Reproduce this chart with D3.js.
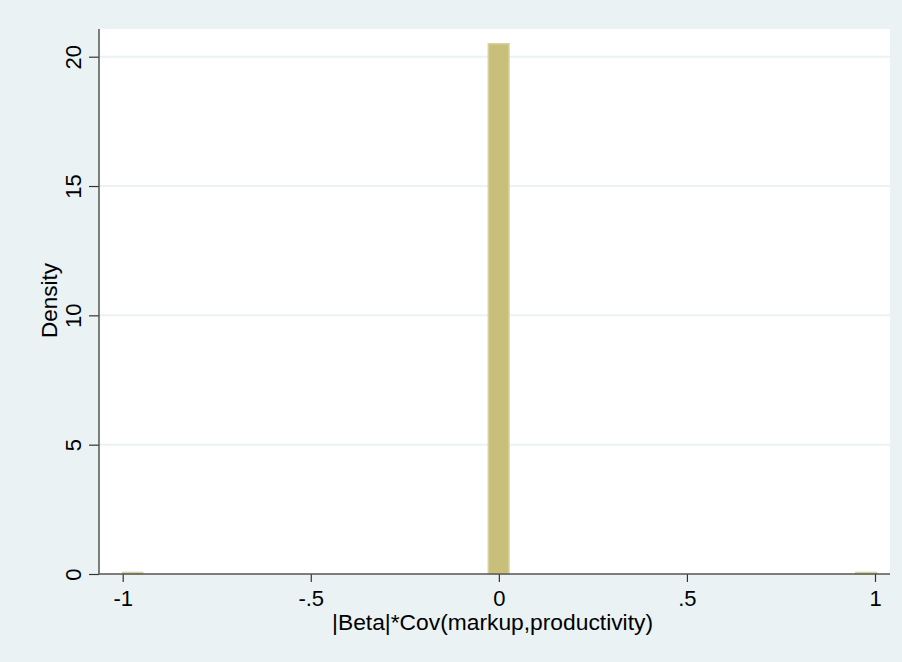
<!DOCTYPE html>
<html>
<head>
<meta charset="utf-8">
<script src="https://cdn.jsdelivr.net/npm/d3@7"></script>
<style>
  body { margin: 0; background: #eaf2f3; }
  svg { display: block; font-family: "Liberation Sans", Arial, sans-serif; }
</style>
</head>
<body>
<svg id="chart"></svg>
<script>
// histogram bins (data units) and their densities
var binStart = [-1.0, -0.028, 0.949];
var binEnd = [-0.947, 0.027, 1.004];
var density = [0.06, 20.5, 0.06];

var xTicks = [-1, -0.5, 0, 0.5, 1];
var xTickLabels = ["-1", "-.5", "0", ".5", "1"];
var yTicks = [0, 5, 10, 15, 20];
var yGrid = [5, 10, 15, 20];

var width = 902, height = 662;
var plot = {left: 99, right: 890, top: 29, bottom: 574};

var svg = d3.select("#chart").attr("width", width).attr("height", height);

svg.append("rect")
    .attr("width", width).attr("height", height)
    .attr("fill", "#eaf2f3");

svg.append("rect")
    .attr("x", plot.left).attr("y", plot.top)
    .attr("width", plot.right - plot.left)
    .attr("height", plot.bottom - plot.top)
    .attr("fill", "#ffffff");

var x = d3.scaleLinear().domain([-1, 1]).range([122.7, 875]);
var y = d3.scaleLinear().domain([0, 20]).range([plot.bottom, 56.7]);

// gridlines
svg.append("g").selectAll("line")
    .data(yGrid)
    .enter().append("line")
    .attr("x1", plot.left).attr("x2", plot.right)
    .attr("y1", function(d) { return y(d); })
    .attr("y2", function(d) { return y(d); })
    .attr("stroke", "#eaf2f3")
    .attr("stroke-width", 2);

// bars
var bins = binStart.map(function(s, i) { return {x0: s, x1: binEnd[i], d: density[i]}; });
svg.append("g").selectAll("rect")
    .data(bins)
    .enter().append("rect")
    .attr("x", function(b) { return x(b.x0); })
    .attr("width", function(b) { return x(b.x1) - x(b.x0); })
    .attr("y", function(b) { return y(b.d); })
    .attr("height", function(b) { return y(0) - y(b.d); })
    .attr("fill", "#c8bf7b")
    .attr("stroke", "#d8d29f")
    .attr("stroke-width", 1.5);

// x axis
var xAxis = d3.axisBottom(x)
    .tickValues(xTicks)
    .tickFormat(function(d, i) { return xTickLabels[i]; })
    .tickSize(8)
    .tickSizeOuter(0)
    .tickPadding(8);
var gx = svg.append("g")
    .attr("transform", "translate(0," + plot.bottom + ")")
    .call(xAxis);
gx.select(".domain").remove();
gx.append("line")
    .attr("x1", plot.left).attr("x2", plot.right)
    .attr("stroke", "#555").attr("stroke-width", 1.5);
gx.selectAll(".tick line").attr("stroke", "#333").attr("stroke-width", 1.2);
gx.selectAll(".tick text")
    .attr("fill", "#000")
    .style("font-size", "22px")
    .style("font-family", "Liberation Sans, Arial, sans-serif");

// y axis
var yAxis = d3.axisLeft(y)
    .tickValues(yTicks)
    .tickSize(10)
    .tickSizeOuter(0);
var gy = svg.append("g")
    .attr("transform", "translate(" + plot.left + ",0)")
    .call(yAxis);
gy.select(".domain").remove();
gy.append("line")
    .attr("y1", plot.top).attr("y2", plot.bottom)
    .attr("stroke", "#555").attr("stroke-width", 1.5);
gy.selectAll(".tick line").attr("stroke", "#333").attr("stroke-width", 1.2);
gy.selectAll(".tick text")
    .attr("x", null).attr("dy", null)
    .attr("transform", "translate(-18.5,0) rotate(-90)")
    .attr("text-anchor", "middle")
    .attr("fill", "#000")
    .style("font-size", "22px")
    .style("font-family", "Liberation Sans, Arial, sans-serif");

// axis titles
svg.append("text")
    .attr("x", (plot.left + plot.right) / 2 - 2)
    .attr("y", 630)
    .attr("text-anchor", "middle")
    .style("font-size", "22.8px")
    .text("|Beta|*Cov(markup,productivity)");

svg.append("text")
    .attr("transform", "translate(56.5," + ((plot.top + plot.bottom) / 2 - 1) + ") rotate(-90)")
    .attr("text-anchor", "middle")
    .style("font-size", "22.5px")
    .text("Density");
</script>
</body>
</html>
